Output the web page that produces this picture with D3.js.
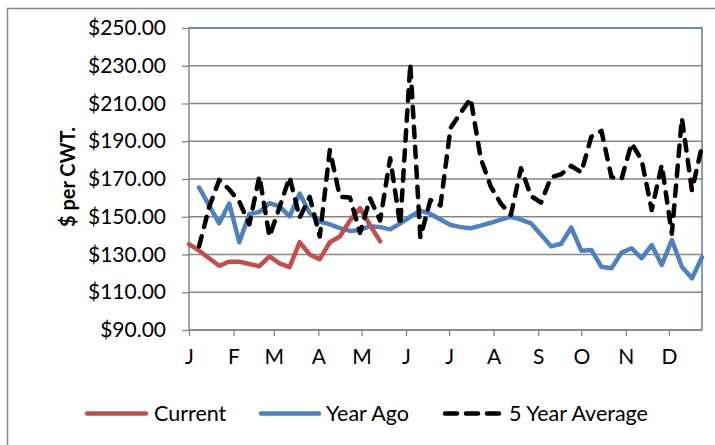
<!DOCTYPE html>
<html>
<head>
<meta charset="utf-8">
<script src="https://cdn.jsdelivr.net/npm/d3@7"></script>
<style>
  body { margin: 0; background: #fff; }
  svg { display: block; }
  text { font-family: Lato, "Open Sans", sans-serif; fill: #000; }
</style>
</head>
<body>
<svg id="chart" width="715" height="445"></svg>
<script>
// Weekly observation dates (one shared category axis for all series)
const weekDates = [
  "2015-01-01","2015-01-08","2015-01-15","2015-01-22","2015-01-29",
  "2015-02-05","2015-02-12","2015-02-19","2015-02-26",
  "2015-03-05","2015-03-12","2015-03-19","2015-03-26",
  "2015-04-02","2015-04-09","2015-04-16","2015-04-23","2015-04-30",
  "2015-05-07","2015-05-14","2015-05-21","2015-05-28",
  "2015-06-04","2015-06-11","2015-06-18","2015-06-25",
  "2015-07-02","2015-07-09","2015-07-16","2015-07-23","2015-07-30",
  "2015-08-06","2015-08-13","2015-08-20","2015-08-27",
  "2015-09-03","2015-09-10","2015-09-17","2015-09-24",
  "2015-10-01","2015-10-08","2015-10-15","2015-10-22","2015-10-29",
  "2015-11-05","2015-11-12","2015-11-19","2015-11-26",
  "2015-12-03","2015-12-10","2015-12-17","2015-12-24"
];

const monthLabels = ["J","F","M","A","M","J","J","A","S","O","N","D"];
const yTicks = [90, 110, 130, 150, 170, 190, 210, 230, 250];
const yTitle = "$ per CWT.";

// $ per CWT by week (null = no observation)
const current = [135.5, 132, 128, 124, 126.2, 126.2, 125, 123.8, 129, 125.3,
  123.3, 136.6, 130, 127.5, 136.5, 139.5, 148, 154.5, 145.5, 137];

const yearAgo = [null, 165.5, 156, 146.5, 157, 136.5, 151.5, 152.5, 157.2, 155.5,
  150.2, 162.3, 152, 147.5, 146, 144, 142.5, 143, 145, 144.5,
  143.3, 146.5, 150, 153.2, 151.5, 148.5, 145.6, 144.5, 143.9, 145.3,
  146.8, 148.5, 150, 148.5, 146.5, 140.5, 134.3, 135.7, 144.3, 132,
  132.4, 123.5, 122.7, 131, 133.3, 128, 135, 124.4, 137.7, 123.5,
  117.4, 128.5];

const fiveYearAvg = [null, 134.3, 155, 169.5, 164.5, 158, 146, 171.5, 139.5, 155,
  171, 149.5, 160.5, 139.5, 185.3, 160.6, 160.2, 141.5, 159.7, 148,
  181, 145.5, 231, 139, 158.8, 156, 197, 205, 212.7, 181,
  166, 157, 151, 175.7, 161, 157.5, 171, 172.5, 177, 173.5,
  192.4, 195.5, 171, 170, 188.9, 180, 153.6, 177.4, 141, 202.2,
  164, 187.5];

const seriesNames = ["Current", "Year Ago", "5 Year Average"];
const seriesColors = ["#c0504d", "#4f81bd", "#000000"];

const svg = d3.select("#chart");
const plot = { left: 189, right: 702, top: 28, bottom: 330 };
const gridColor = "#868686";
const labelFont = 21;

const dates = weekDates.map(s => new Date(s + "T00:00:00Z"));

const x = d3.scaleUtc()
  .domain([dates[0], dates[dates.length - 1]])
  .range([plot.left, plot.right]);

const y = d3.scaleLinear()
  .domain([90, 250])
  .range([plot.bottom, plot.top]);

// Outer chart-area frame
svg.append("rect")
  .attr("x", 7.5).attr("y", 8.5)
  .attr("width", 900).attr("height", 600)
  .attr("fill", "none")
  .attr("stroke", gridColor)
  .attr("stroke-width", 1.5);

// Horizontal gridlines
svg.append("g")
  .selectAll("line")
  .data(yTicks)
  .join("line")
  .attr("x1", plot.left).attr("x2", plot.right)
  .attr("y1", d => y(d)).attr("y2", d => y(d))
  .attr("stroke", gridColor)
  .attr("stroke-width", 1.3);

// Plot-area border (top and right edges show)
svg.append("path")
  .attr("d", `M${plot.left},${plot.top}H${plot.right}V${plot.bottom}`)
  .attr("fill", "none")
  .attr("stroke", "#4f81bd")
  .attr("stroke-width", 1.5);

// Y axis
const yAxis = d3.axisLeft(y)
  .tickValues(yTicks)
  .tickFormat(d => "$" + d3.format(".2f")(d))
  .tickSize(7)
  .tickPadding(16);

const gy = svg.append("g")
  .attr("transform", `translate(${plot.left},0)`)
  .call(yAxis);
gy.select(".domain").attr("stroke", gridColor).attr("stroke-width", 1.5)
  .attr("d", `M0,${plot.top}V${plot.bottom}`);
gy.selectAll(".tick line").attr("stroke", gridColor).attr("stroke-width", 1.3);
gy.selectAll(".tick text")
  .attr("font-size", labelFont)
  .attr("font-family", "Lato, sans-serif")
  .attr("fill", "#000");

// X axis with month ticks
const monthStarts = d3.utcMonth.range(dates[0], dates[dates.length - 1]);
const xAxis = d3.axisBottom(x)
  .tickValues(monthStarts)
  .tickFormat((d, i) => monthLabels[i])
  .tickSize(6)
  .tickPadding(13.5);

const gx = svg.append("g")
  .attr("transform", `translate(0,${plot.bottom})`)
  .call(xAxis);
gx.select(".domain").attr("stroke", gridColor).attr("stroke-width", 1.5)
  .attr("d", `M${plot.left},0H${plot.right}`);
gx.selectAll(".tick line").attr("stroke", gridColor).attr("stroke-width", 1.3);
gx.selectAll(".tick text")
  .attr("font-size", labelFont)
  .attr("font-family", "Lato, sans-serif")
  .attr("fill", "#000");

// Y axis title
svg.append("text")
  .attr("transform", "translate(74.5,177) rotate(-90)")
  .attr("text-anchor", "middle")
  .attr("font-size", 20)
  .attr("font-weight", "bold")
  .text(yTitle);

// Series lines
const line = d3.line()
  .defined(d => d.v != null)
  .x(d => x(d.date))
  .y(d => y(d.v));

const seriesData = [current, yearAgo, fiveYearAvg].map(vals =>
  dates.map((date, i) => ({ date, v: i < vals.length ? vals[i] : null })));

const drawOrder = [1, 0, 2];
drawOrder.forEach(si => {
  svg.append("path")
    .datum(seriesData[si])
    .attr("d", line)
    .attr("fill", "none")
    .attr("stroke", seriesColors[si])
    .attr("stroke-width", 4.5)
    .attr("stroke-linejoin", "round")
    .attr("stroke-linecap", "round")
    .attr("stroke-dasharray", si === 2 ? "10.5,9.5" : null);
});

// Legend
const legendY = 413.5;
const legendItems = [
  { x1: 85, x2: 148, tx: 154 },
  { x1: 259, x2: 321, tx: 326 },
  { x1: 443, x2: 502, tx: 509 }
];
legendItems.forEach((it, i) => {
  svg.append("line")
    .attr("x1", it.x1 + 2).attr("x2", it.x2 - 2)
    .attr("y1", legendY).attr("y2", legendY)
    .attr("stroke", seriesColors[i])
    .attr("stroke-width", 4.5)
    .attr("stroke-linecap", "round")
    .attr("stroke-dasharray", i === 2 ? "12,9" : null);
  svg.append("text")
    .attr("x", it.tx)
    .attr("y", 420.5)
    .attr("font-size", 21.5)
    .text(seriesNames[i]);
});
</script>
</body>
</html>
